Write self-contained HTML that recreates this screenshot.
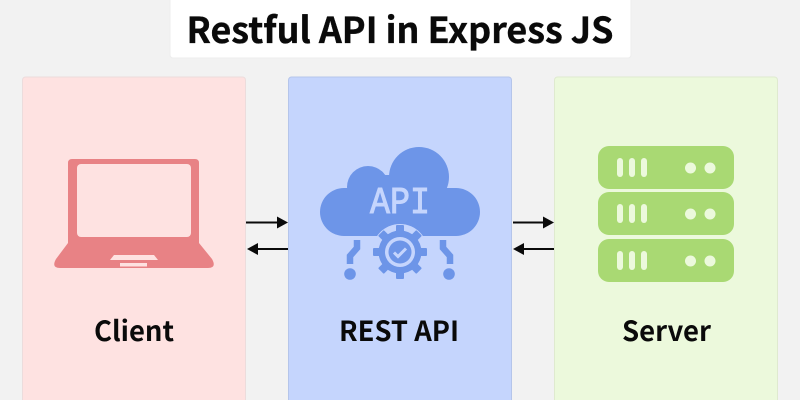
<!DOCTYPE html>
<html>
<head>
<meta charset="utf-8">
<style>
html,body{margin:0;padding:0;background:#f2f2f2;width:800px;height:400px;overflow:hidden}
svg{display:block}
text{font-family:"Noto Sans CJK JP","Liberation Sans",sans-serif}
</style>
</head>
<body>
<svg width="800" height="400" viewBox="0 0 800 400" xmlns="http://www.w3.org/2000/svg">
<rect width="800" height="400" fill="#f2f2f2"/>
<rect x="170" y="-6" width="461" height="64" rx="3" fill="#fff" stroke="#ededed" stroke-width="1"/>
<text x="186.500" y="43" font-size="36" font-weight="700" fill="#0a0a0a" stroke="#0a0a0a" stroke-width="0.35" textLength="427" lengthAdjust="spacingAndGlyphs">Restful API in Express JS</text>

<rect x="22.500" y="77" width="223" height="330" rx="3" fill="#fee2e1" stroke="#ecdcdc"/>
<rect x="288.500" y="77" width="223" height="330" rx="3" fill="#c5d5fd" stroke="#b5c5ea"/>
<rect x="554.500" y="77" width="223" height="330" rx="3" fill="#ecf9dc" stroke="#dfeacf"/>

<!-- Laptop -->
<path d="M72 159H195Q199 159 199 163V243L212 259Q217 268 208 268H60Q51 268 56 259L68 243V163Q68 159 72 159Z" fill="#e88285"/>
<rect x="77" y="164" width="114" height="73" rx="4" fill="#fee2e1"/>
<path d="M114 255H154L158 260H110Z" fill="#fee2e1"/>
<rect x="120" y="263" width="27" height="3.500" fill="#fee2e1"/>

<!-- Cloud -->
<g fill="#6d95e8">
<circle cx="419" cy="177" r="30"/>
<circle cx="368" cy="187" r="21"/>
<circle cx="344" cy="212" r="24"/>
<circle cx="456" cy="212" r="24"/>
<rect x="344" y="188" width="112" height="48"/>
<rect x="360" y="175" width="80" height="30"/>
</g>
<text x="370" y="213" font-size="38" fill="#c5d5fd" stroke="#c5d5fd" stroke-width="1" textLength="60" lengthAdjust="spacingAndGlyphs" style='font-family:"Liberation Mono",monospace'>API</text>

<!-- Gear -->
<circle cx="400" cy="252" r="28" fill="#c5d5fd"/>
<g fill="#6d95e8">
<circle cx="400" cy="252" r="21.500"/>
<rect x="396" y="225" width="8" height="54" rx="1"/>
<rect x="396" y="225" width="8" height="54" rx="1" transform="rotate(45 400 252)"/>
<rect x="396" y="225" width="8" height="54" rx="1" transform="rotate(90 400 252)"/>
<rect x="396" y="225" width="8" height="54" rx="1" transform="rotate(135 400 252)"/>
</g>
<circle cx="400" cy="252" r="15" fill="#c5d5fd"/>
<circle cx="400" cy="252" r="11.500" fill="#6d95e8"/>
<path d="M394 252.500L398 256.500L406 248.500" fill="none" stroke="#c5d5fd" stroke-width="3"/>

<!-- Connectors -->
<g fill="none" stroke="#6d95e8" stroke-width="6.500">
<path d="M357 240V248L350 256V264"/>
<path d="M443 240V248L450 256V264"/>
</g>
<circle cx="350" cy="274" r="5.800" fill="#6d95e8"/>
<circle cx="449" cy="274" r="5.800" fill="#6d95e8"/>

<!-- Server -->
<g fill="#a9d973">
<rect x="598" y="146" width="136" height="43" rx="11"/>
<rect x="598" y="192" width="136" height="43" rx="11"/>
<rect x="598" y="239" width="136" height="43" rx="11"/>
</g>
<g fill="#ecf9dc">
<rect x="617" y="158" width="6" height="19" rx="3"/><rect x="629" y="158" width="6" height="19" rx="3"/><rect x="641" y="158" width="6" height="19" rx="3"/>
<rect x="617" y="204" width="6" height="19" rx="3"/><rect x="629" y="204" width="6" height="19" rx="3"/><rect x="641" y="204" width="6" height="19" rx="3"/>
<rect x="617" y="251" width="6" height="19" rx="3"/><rect x="629" y="251" width="6" height="19" rx="3"/><rect x="641" y="251" width="6" height="19" rx="3"/>
<circle cx="690.500" cy="168" r="5.500"/><circle cx="710" cy="168" r="5.500"/>
<circle cx="690.500" cy="214" r="5.500"/><circle cx="710" cy="214" r="5.500"/>
<circle cx="690.500" cy="261" r="5.500"/><circle cx="710" cy="261" r="5.500"/>
</g>

<!-- Arrows -->
<g stroke="#0a0a0a" stroke-width="2" fill="none">
<path d="M246 222.500H280"/><path d="M288 249H255"/>
<path d="M513 222.500H546"/><path d="M554 249H521"/>
</g>
<g fill="#0a0a0a">
<path d="M288 222.500L277 216.500V228.500Z"/><path d="M247 249L258 243V255Z"/>
<path d="M554 222.500L543 216.500V228.500Z"/><path d="M513 249L524 243V255Z"/>
</g>

<!-- Labels -->
<g font-size="28" font-weight="700" fill="#0a0a0a" lengthAdjust="spacingAndGlyphs">
<text x="94" y="341" textLength="80" lengthAdjust="spacingAndGlyphs" font-weight="700">Client</text>
<text x="339" y="341" textLength="120" lengthAdjust="spacingAndGlyphs" font-weight="700">REST API</text>
<text x="622" y="341" textLength="89" lengthAdjust="spacingAndGlyphs" font-weight="700">Server</text>
</g>
</svg>
</body>
</html>
